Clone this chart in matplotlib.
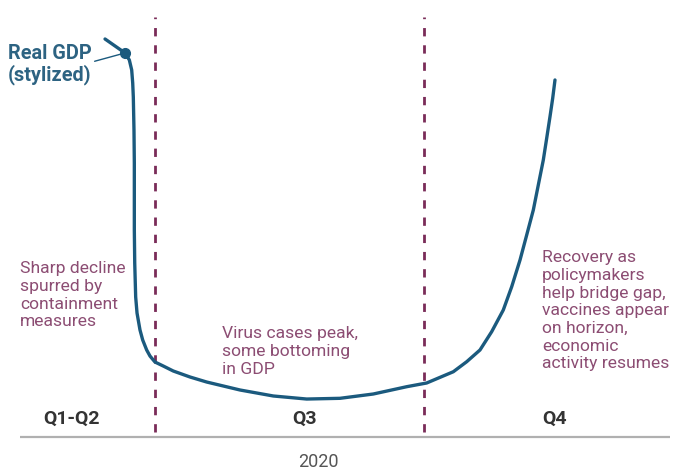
import matplotlib
matplotlib.use('Agg')
import matplotlib.pyplot as plt

# stylized real GDP path (x: position across 2020, y: GDP index)
gdp_x = [15.56, 18.52, 19.16, 19.51, 19.66, 19.75, 19.85, 19.90, 19.90, 19.96,
         20.10, 20.30, 20.74, 21.14, 21.73, 22.22, 22.96, 24.19, 25.67, 28.15,
         30.62, 35.56, 40.49, 45.44, 50.37, 55.30, 60.25, 63.21, 67.16, 69.14,
         71.11, 72.84, 74.56, 75.81, 77.04, 78.03, 79.01, 79.75, 80.49, 80.99,
         81.48, 81.88, 82.22]
gdp_y = [94.31, 91.00, 89.34, 86.97, 83.89, 80.57, 72.75, 64.93, 49.05, 41.23,
         33.18, 29.38, 25.36, 22.99, 20.62, 19.19, 17.77, 16.82, 15.64, 14.22,
         13.03, 11.14, 9.72, 9.00, 9.17, 10.19, 11.92, 12.80, 15.47, 17.84,
         20.62, 24.95, 30.09, 35.62, 41.94, 47.87, 53.79, 59.72, 65.64, 70.78,
         75.90, 80.26, 84.60]
marker_idx = 1

quarter_bounds = [22.96, 62.8]
quarter_labels = ['Q1-Q2', 'Q3', 'Q4']
notes = ['Sharp decline\nspurred by\ncontainment\nmeasures',
         'Virus cases peak,\nsome bottoming\nin GDP',
         'Recovery as\npolicymakers\nhelp bridge gap,\nvaccines appear\non horizon,\neconomic\nactivity resumes']
year_label = '2020'

LINE = '#1b5a7e'
NOTE = '#8c4d73'
DASH = '#7a2c58'

plt.rcParams['font.family'] = ['Roboto', 'DejaVu Sans']

fig = plt.figure(figsize=(6.75, 4.72), dpi=100)
ax = fig.add_axes([0, 0, 1, 1])
ax.set_xlim(0, 100)
ax.set_ylim(-8.29, 103.55)
ax.axis('off')

# baseline
ax.plot([3.0, 99.2], [0, 0], color='#b0b0b0', lw=1.6, solid_capstyle='butt')

# quarter boundaries
ax.vlines(quarter_bounds, 1.2, 99.5, colors=DASH, lw=2.0, linestyles=(0, (3.0, 3.2)))

# GDP curve
ax.plot(gdp_x, gdp_y, color=LINE, lw=2.4, solid_joinstyle='round',
        solid_capstyle='round', zorder=3)
ax.plot(gdp_x[marker_idx], gdp_y[marker_idx], 'o', color=LINE, ms=7, zorder=4)
ax.annotate('Real GDP\n(stylized)', xy=(gdp_x[marker_idx], gdp_y[marker_idx]),
            xytext=(1.2, 88.2), color='#2d6382', fontsize=14.3, fontweight='bold',
            ha='left', va='center', linespacing=1.1,
            arrowprops=dict(arrowstyle='-', color=LINE, lw=1.0,
                            shrinkA=0, shrinkB=2, relpos=(0.97, 0.55)))

# notes
note_kw = dict(color=NOTE, fontsize=12.6, ha='left', va='top', linespacing=1.22)
ax.text(3.0, 41.6, notes[0], **note_kw)
ax.text(32.9, 26.2, notes[1], **note_kw)
ax.text(80.3, 44.2, notes[2], **note_kw)

# quarter labels
q_kw = dict(color='#333333', fontsize=14, fontweight='bold', va='center')
ax.text(10.6, 4.4, quarter_labels[0], ha='center', **q_kw)
ax.text(45.1, 4.4, quarter_labels[1], ha='center', **q_kw)
ax.text(80.3, 4.4, quarter_labels[2], ha='left', **q_kw)

ax.text(47.1, -5.9, year_label, color='#555555', fontsize=13, ha='center', va='center')

fig.savefig('out.png', dpi=100, facecolor='white')
